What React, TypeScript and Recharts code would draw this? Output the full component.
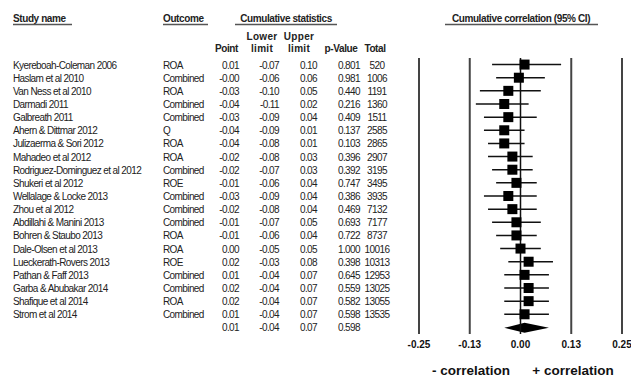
import React from 'react';
import { ComposedChart, Scatter, ErrorBar, Bar, XAxis, YAxis, ReferenceLine } from 'recharts';

const studies = [
  'Kyereboah-Coleman 2006', 'Haslam et al 2010', 'Van Ness et al 2010', 'Darmadi 2011', 'Galbreath 2011',
  'Ahern & Dittmar 2012', 'Julizaerma & Sori 2012', 'Mahadeo et al 2012', 'Rodriguez-Dominguez et al 2012',
  'Shukeri et al 2012', 'Wellalage & Locke 2013', 'Zhou et al 2012', 'Abdillahi & Manini 2013',
  'Bohren & Staubo 2013', 'Dale-Olsen et al 2013', 'Lueckerath-Rovers 2013', 'Pathan & Faff 2013',
  'Garba & Abubakar 2014', 'Shafique et al 2014', 'Strom et al 2014',
];
const outcomes = [
  'ROA', 'Combined', 'ROA', 'Combined', 'Combined', 'Q', 'ROA', 'ROA', 'Combined', 'ROE',
  'Combined', 'Combined', 'Combined', 'ROA', 'ROA', 'ROE', 'Combined', 'Combined', 'ROA', 'Combined',
];
const points = [0.01, -0.004, -0.03, -0.04, -0.03, -0.04, -0.04, -0.02, -0.02, -0.01, -0.03, -0.02, -0.01, -0.01, 0.0, 0.02, 0.01, 0.02, 0.02, 0.01];
const lowers = [-0.07, -0.06, -0.1, -0.11, -0.09, -0.09, -0.08, -0.08, -0.07, -0.06, -0.09, -0.08, -0.07, -0.06, -0.05, -0.03, -0.04, -0.04, -0.04, -0.04];
const uppers = [0.1, 0.06, 0.05, 0.02, 0.04, 0.01, 0.01, 0.03, 0.03, 0.04, 0.04, 0.04, 0.05, 0.04, 0.05, 0.08, 0.07, 0.07, 0.07, 0.07];
const pValues = ['0.801', '0.981', '0.440', '0.216', '0.409', '0.137', '0.103', '0.396', '0.392', '0.747', '0.386', '0.469', '0.693', '0.722', '1.000', '0.398', '0.645', '0.559', '0.582', '0.598'];
const totals = ['520', '1006', '1191', '1360', '1511', '2585', '2865', '2907', '3195', '3495', '3935', '7132', '7177', '8737', '10016', '10313', '12953', '13025', '13055', '13535'];

const summaryPoint = 0.01;
const summaryLower = -0.04;
const summaryUpper = 0.07;
const summaryP = '0.598';

const xTicks = [-0.25, -0.125, 0, 0.125, 0.25];
const xTickLabels = ['-0.25', '-0.13', '0.00', '0.13', '0.25'];

const rows: any[] = studies.map((name, i) => ({
  id: i,
  name,
  outcome: outcomes[i],
  point: points[i],
  lower: lowers[i],
  upper: uppers[i],
  p: pValues[i],
  total: totals[i],
  err: [points[i] - lowers[i], uppers[i] - points[i]],
}));
rows.push({
  id: studies.length,
  name: '',
  outcome: '',
  mid: summaryPoint,
  lower: summaryLower,
  upper: summaryUpper,
  p: summaryP,
  total: '',
  range: [summaryLower, summaryUpper],
  summary: true,
});

const FONT = '"Liberation Sans", Arial, sans-serif';
const txt = { fontFamily: FONT, fontSize: 10, fill: '#222', letterSpacing: -0.6 } as const;
const head = { fontFamily: FONT, fontSize: 10, fontWeight: 700, fill: '#222', letterSpacing: -0.4 } as const;

function RowTick(props: any) {
  const { y, payload } = props;
  const r = rows[payload.value];
  if (!r) return null;
  const yy = y + 4;
  return (
    <g>
      <text x={13} y={yy} {...txt}>{r.name}</text>
      <text x={163} y={yy} {...txt}>{r.outcome}</text>
      <text x={239} y={yy} textAnchor="end" {...txt}>{(r.summary ? r.mid : r.point).toFixed(2)}</text>
      <text x={279} y={yy} textAnchor="end" {...txt}>{r.lower.toFixed(2)}</text>
      <text x={317} y={yy} textAnchor="end" {...txt}>{r.upper.toFixed(2)}</text>
      <text x={360} y={yy} textAnchor="end" {...txt}>{r.p}</text>
      <text x={377} y={yy} textAnchor="middle" {...txt}>{r.total}</text>
    </g>
  );
}

function SquareShape(props: any) {
  const { cx, cy } = props;
  if (!Number.isFinite(cx) || !Number.isFinite(cy)) return <g />;
  return <rect x={cx - 5} y={cy - 5} width={10} height={10} fill="#000" />;
}

function DiamondShape(props: any) {
  const { x, y, width, height, payload } = props;
  if (!payload || !payload.summary) return <g />;
  const apex = x + (width * (payload.mid - payload.lower)) / (payload.upper - payload.lower);
  const cy = y + height / 2;
  const pts = `${x},${cy} ${apex},${y} ${x + width},${cy} ${apex},${y + height}`;
  return <polygon points={pts} fill="#000" />;
}

export default function App() {
  return (
    <div style={{ position: 'absolute', left: 0, top: 0, width: 631, height: 377, background: '#fff' }}>
      <ComposedChart
        width={631}
        height={377}
        data={rows}
        layout="vertical"
        margin={{ top: 58, right: 9, bottom: 23, left: 0 }}
      >
        <XAxis
          type="number"
          dataKey="point"
          domain={[-0.25, 0.25]}
          ticks={xTicks}
          allowDataOverflow
          axisLine={false}
          tickLine={false}
          tickMargin={1}
          height={20}
          interval={0}
          tickFormatter={(v: number, i: number) => xTickLabels[i]}
          tick={{ fill: '#111', fontSize: 10, fontWeight: 700, fontFamily: FONT }}
        />
        <YAxis
          type="category"
          dataKey="id"
          width={419}
          axisLine={false}
          tickLine={false}
          interval={0}
          tick={<RowTick />}
        />
        {xTicks.filter((t) => t !== 0).map((t) => (
          <ReferenceLine key={t} x={t} stroke="#444" strokeWidth={2} />
        ))}
        <ReferenceLine x={0} stroke="#111" strokeWidth={1.5} />
        <Bar dataKey="range" barSize={10} shape={<DiamondShape />} isAnimationActive={false} />
        <Scatter shape={<SquareShape />} isAnimationActive={false}>
          <ErrorBar dataKey="err" direction="x" width={0} stroke="#111" strokeWidth={1.5} />
        </Scatter>
      </ComposedChart>
      <svg width={631} height={377} style={{ position: 'absolute', left: 0, top: 0, pointerEvents: 'none' }}>
        <text x={13} y={22} {...head}>Study name</text>
        <line x1={13} x2={72} y1={24.5} y2={24.5} stroke="#555" strokeWidth={1.5} />
        <text x={163} y={22} {...head}>Outcome</text>
        <line x1={163} x2={208} y1={24.5} y2={24.5} stroke="#555" strokeWidth={1.5} />
        <text x={286} y={22} textAnchor="middle" {...head}>Cumulative statistics</text>
        <line x1={235} x2={337} y1={24.5} y2={24.5} stroke="#555" strokeWidth={1.5} />
        <text x={521} y={22} textAnchor="middle" {...head}>Cumulative correlation (95% CI)</text>
        <line x1={445} x2={598} y1={24.5} y2={24.5} stroke="#555" strokeWidth={1.5} />
        <text x={238} y={52} textAnchor="end" {...head}>Point</text>
        <text x={262} y={40} textAnchor="middle" {...head} letterSpacing={0.3}>Lower</text>
        <text x={262} y={52} textAnchor="middle" {...head} letterSpacing={0.3}>limit</text>
        <text x={299} y={40} textAnchor="middle" {...head} letterSpacing={0.3}>Upper</text>
        <text x={299} y={52} textAnchor="middle" {...head} letterSpacing={0.3}>limit</text>
        <text x={341} y={52} textAnchor="middle" {...head}>p-Value</text>
        <text x={375} y={52} textAnchor="middle" {...head}>Total</text>
        <text x={471} y={375} textAnchor="middle" fontFamily={FONT} fontSize={13.5} fontWeight={700} fill="#111">- correlation</text>
        <text x={573} y={375} textAnchor="middle" fontFamily={FONT} fontSize={13.5} fontWeight={700} fill="#111">+ correlation</text>
      </svg>
    </div>
  );
}
